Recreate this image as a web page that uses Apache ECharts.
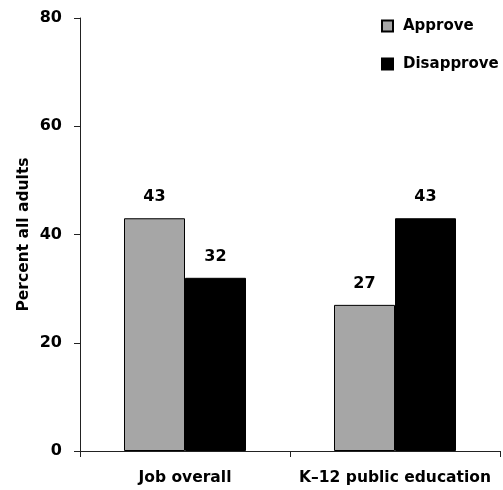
<!DOCTYPE html>
<html>
<head>
<meta charset="utf-8">
<script src="https://cdn.jsdelivr.net/npm/echarts@6/dist/echarts.min.js"></script>
<style>html,body{margin:0;padding:0;background:#fff}#c{width:503px;height:490px}</style>
</head>
<body>
<div id="c"></div>
<script>
var categories = ['Job overall', 'K\u201312 public education'];
var approve = [43, 27];
var disapprove = [32, 43];
var yTicks = [0, 20, 40, 60, 80];

var FONT = 'DejaVu Sans';
var chart = echarts.init(document.getElementById('c'), null, {renderer: 'canvas'});
chart.setOption({
  animation: false,
  backgroundColor: '#fff',
  grid: {left: 80, right: 3, top: 18, bottom: 39, containLabel: false},
  legend: {
    orient: 'vertical', left: 381, top: 18, padding: 0,
    itemWidth: 11, itemHeight: 11, itemGap: 22,
    icon: 'rect',
    textStyle: {fontFamily: FONT, fontWeight: 'bold', fontSize: 15, color: '#000', lineHeight: 16, padding: [0,0,0,5]},
    data: ['Approve', 'Disapprove']
  },
  xAxis: {
    type: 'category', data: categories,
    axisLine: {lineStyle: {color: '#222', width: 1}},
    axisTick: {show: true, alignWithLabel: false, length: 6, lineStyle: {color: '#222'}},
    axisLabel: {interval: 0, fontFamily: FONT, fontWeight: 'bold', fontSize: 15.5, color: '#000', margin: 19}
  },
  yAxis: {
    type: 'value', min: yTicks[0], max: yTicks[yTicks.length-1], interval: 20,
    name: 'Percent all adults', nameLocation: 'middle', nameGap: 48, nameRotate: 90,
    nameMoveOverlap: false,
    nameTextStyle: {fontFamily: FONT, fontWeight: 'bold', fontSize: 15.5, color: '#000'},
    axisLine: {show: true, lineStyle: {color: '#222', width: 1}},
    axisTick: {show: true, length: 6, lineStyle: {color: '#222'}},
    splitLine: {show: false},
    axisLabel: {fontFamily: FONT, fontWeight: 'bold', fontSize: 16, color: '#000', margin: 18}
  },
  series: [
    {
      name: 'Approve', type: 'bar', data: approve,
      barWidth: 61, barGap: '0%',
      itemStyle: {color: '#a6a6a6', borderColor: '#000', borderWidth: 1},
      label: {show: true, position: 'top', distance: 13, fontFamily: FONT, fontWeight: 'bold', fontSize: 16, color: '#000'}
    },
    {
      name: 'Disapprove', type: 'bar', data: disapprove,
      barWidth: 61, barGap: '0%',
      itemStyle: {color: '#000', borderColor: '#000', borderWidth: 1},
      label: {show: true, position: 'top', distance: 13, fontFamily: FONT, fontWeight: 'bold', fontSize: 16, color: '#000'}
    }
  ]
});
</script>
</body>
</html>
